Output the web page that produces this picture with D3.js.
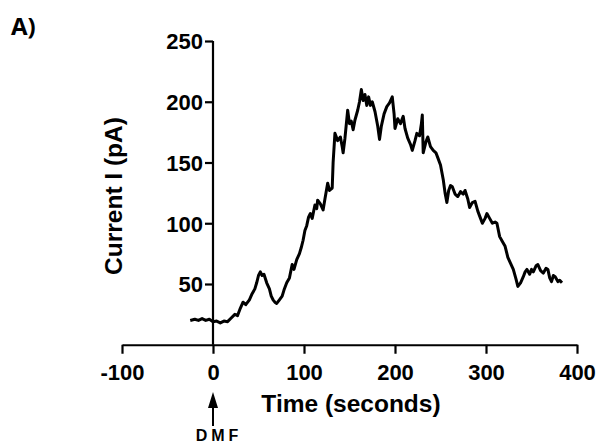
<!DOCTYPE html>
<html>
<head>
<meta charset="utf-8">
<script src="https://cdn.jsdelivr.net/npm/d3@7/dist/d3.min.js"></script>
<style>
  html, body { margin: 0; padding: 0; background: #fff; }
  text { font-family: "Liberation Sans", Arial, sans-serif; font-weight: bold; fill: #000; }
</style>
</head>
<body>
<svg id="chart" width="598" height="444"></svg>
<script>
// Data
const time = [-25,-20,-16,-12,-8,-4,0,4,8,12,16,20,24,27,30,33,36,40,43,46,48,50,52,54,56,59,62,64,66,68,70,73,76,78,81,84,87,89,92,95,97,99,101,103,105,107,109,112,114,115,118,121,123,126,128,131,132,134,137,140,142,143,145,148,150,152,154,156,159,161,163,165,167,169,171,173,175,178,181,183,185,188,191,194,197,199,200,203,206,209,211,214,217,219,222,224,227,229,230,231,234,236,239,242,245,247,250,253,255,257,259,261,263,266,269,272,275,277,280,282,285,288,291,294,296,299,301,304,307,310,312,315,318,321,324,327,330,333,335,338,341,343,345,348,350,352,355,357,360,363,366,368,370,372,374,376,379,381,383.5];
const current = [20,21,20,21.5,20,21,19,19.5,18,19.5,19,22,25,24,30,35,33,37,42,46,51,57,60,57,58,51,46,40,37,35,34,37,40,45,51,55,66,62,70,75,80,86,94,98,105,108,104,115,112,119,116,111,120,133,127,129,150,174,168,171,163,158,170,193,182,184,177,185,193,200,210,201,206,197,204,197,200,192,180,169,180,190,196,199,204,190,178,186,182,188,178,170,165,160,168,174,172,182,189,158,167,171,163,160,158,154,148,136,125,117,127,131,130,124,122,126,124,127,120,113,117,118,110,104,100,104,108,104,100,101,100,89,85,81,72,67,62,54,48,51,56,60,62,58,62,60,65,66,61,59,63,62,55,52,57,56,52,53,51];
const xTicks = [-100, 0, 100, 200, 300, 400];
const yTicks = [50, 100, 150, 200, 250];
const xTitle = "Time (seconds)";
const yTitle = "Current I (pA)";
const panelLabel = "A)";
const eventLabel = "DMF";
const eventTime = 0;

const svg = d3.select("#chart");
const x = d3.scaleLinear().domain([-100, 400]).range([122, 577]);
const y = d3.scaleLinear().domain([0, 250]).range([344.75, 41]);

// X axis
const gx = svg.append("g").attr("transform", `translate(0,${y(0)})`)
  .call(d3.axisBottom(x).tickValues(xTicks).tickSize(9).tickSizeOuter(0).tickFormat(d => String(d)));
// Y axis
const gy = svg.append("g").attr("transform", `translate(${x(0)},0)`)
  .call(d3.axisLeft(y).tickValues(yTicks).tickSize(8).tickSizeOuter(0).tickFormat(d => String(d)));

[gx, gy].forEach(g => {
  g.select(".domain").attr("stroke", "#000").attr("stroke-width", 2.2);
  g.selectAll(".tick line").attr("stroke", "#000").attr("stroke-width", 2.2);
  g.selectAll(".tick text").attr("font-size", 22).attr("font-family", null).attr("fill", "#000");
});
gx.selectAll(".tick text").attr("y", 35).attr("dy", null);
gy.selectAll(".tick text").attr("x", -10).attr("dy", "0.36em");
gy.select(".domain").attr("d", `M0,${y(250)}V${y(0)}`);

// Trace
const pts = time.map((t, i) => [t, current[i]]);
svg.append("path")
  .datum(pts)
  .attr("fill", "none")
  .attr("stroke", "#000")
  .attr("stroke-width", 3)
  .attr("stroke-linejoin", "round")
  .attr("d", d3.line().x(d => x(d[0])).y(d => y(d[1])));

// Axis titles
svg.append("text").attr("x", 351).attr("y", 412).attr("text-anchor", "middle")
  .attr("font-size", 24.5).text(xTitle);
svg.append("text").attr("transform", `translate(122,196) rotate(-90)`).attr("text-anchor", "middle")
  .attr("font-size", 24.5).text(yTitle);

// Panel label
svg.append("text").attr("x", 11).attr("y", 35).attr("font-size", 24)
  .style("font-family", "'Open Sans', 'Liberation Sans', sans-serif").style("font-weight", "bold").text(panelLabel);

// DMF arrow
const ax = x(eventTime);
svg.append("line").attr("x1", ax).attr("x2", ax).attr("y1", 426).attr("y2", 404)
  .attr("stroke", "#000").attr("stroke-width", 2);
svg.append("path").attr("d", `M${ax},392 L${ax - 5},408 L${ax + 5},408 Z`).attr("fill", "#000");
svg.append("text").attr("x", 219).attr("y", 441).attr("text-anchor", "middle")
  .attr("font-size", 16).attr("letter-spacing", 4).text(eventLabel);
</script>
</body>
</html>
